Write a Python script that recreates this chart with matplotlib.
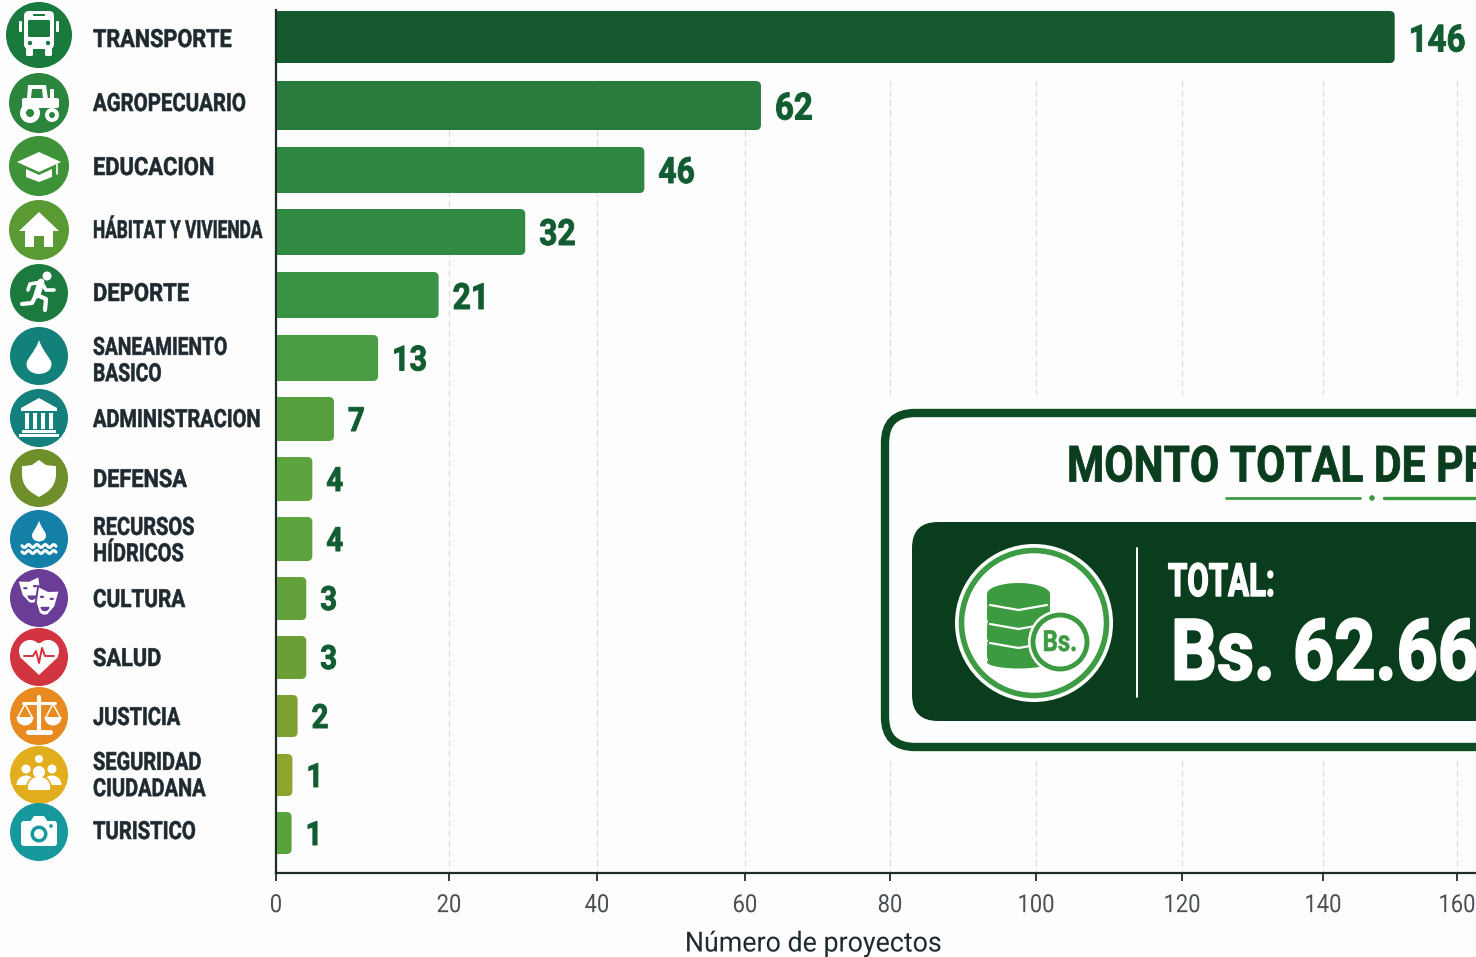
import numpy as np
import matplotlib
matplotlib.use('Agg')
import matplotlib.pyplot as plt
from matplotlib.patches import Circle, Ellipse, FancyBboxPatch, PathPatch, Polygon, Wedge
from matplotlib.patheffects import AbstractPathEffect
from matplotlib.path import Path
from matplotlib.transforms import Affine2D

plt.rcParams['font.family'] = ['Roboto', 'DejaVu Sans']

# data
categories = ['TRANSPORTE', 'AGROPECUARIO', 'EDUCACION', 'HÁBITAT Y VIVIENDA', 'DEPORTE',
              'SANEAMIENTO\nBASICO', 'ADMINISTRACION', 'DEFENSA', 'RECURSOS\nHÍDRICOS',
              'CULTURA', 'SALUD', 'JUSTICIA', 'SEGURIDAD\nCIUDADANA', 'TURISTICO']
value_labels = [146, 62, 46, 32, 21, 13, 7, 4, 4, 3, 3, 2, 1, 1]
# the bars do not sit exactly on their printed value, these are read off the axis
bar_lengths = [150.7, 62.2, 46.4, 30.3, 18.8, 11.8, 6.7, 4.2, 4.2, 3.5, 3.5, 2.5, 1.9, 1.8]
x_ticks = [0, 20, 40, 60, 80, 100, 120, 140, 160]
x_label = 'Número de proyectos'
panel_title = 'MONTO TOTAL DE PROYECTOS'
panel_total = 'TOTAL:'
panel_amount = 'Bs. 62.66'

# layout, in pixels of the 1476x957 picture
W, H = 1476, 957
tick_px = [276, 449, 597, 745, 890, 1036, 1182, 1323, 1457]
bar_top = [11, 81, 147, 209, 272, 335, 397, 457, 517, 577, 636, 695, 754, 812]
bar_bot = [63, 130, 193, 255, 318, 381, 441, 501, 561, 620, 679, 737, 796, 854]
label_y = [40, 104, 168, 231, 294, 361, 420, 480, 541, 600, 659, 718, 776, 832]
label_squeeze = [.866, .816, .876, .69, .88, .77, .80, .87, .80, .83, .87, .80, .80, .81]
value_y = [41, 109, 173, 235, 299, 361, 422, 482, 542, 601, 660, 719, 778, 836]
value_size = [27, 27, 26, 26, 26, 25, 24, 24, 24, 24, 24, 24, 24, 24]
icon_y = [35, 103, 166, 230, 293, 356, 418, 478, 539, 598, 657, 716, 775, 832]
icon_r = [33, 30, 30, 30, 29, 29, 29, 29, 29, 29, 29, 29, 29, 29]
bar_colors = ['#16592f', '#287b3d', '#2f8841', '#318a41', '#3a9344', '#4a9c42', '#559e3e',
              '#5ea43e', '#5ea43e', '#62a03a', '#6a9f38', '#7ca032', '#8ea42c', '#58a23e']
icon_colors = ['#1a7a3e', '#2b853d', '#3e9238', '#5a9a32', '#1d7a3e', '#12817a', '#14807c',
               '#6f8f2a', '#1480a8', '#6a3d96', '#d2353f', '#e88a1f', '#e2ae1e', '#17989c']
bg = '#fdfdfd'
dark = '#0a3d1e'
value_color = '#125c31'
text_color = '#1f2a30'


class Squeeze(AbstractPathEffect):
    # no condensed font installed, so narrow the glyphs when they are drawn
    # stroke puts back some of the weight that the narrowing takes off
    def __init__(self, factor, center=False, stroke=0):
        self.factor = factor
        self.center = center
        self.stroke = stroke

    def draw_path(self, renderer, gc, tpath, affine, rgbFace=None):
        shift = tpath.get_extents().x1 / 2 if self.center else 0
        squeeze = Affine2D().translate(-shift, 0).scale(self.factor, 1).translate(shift, 0)
        gc0 = renderer.new_gc()
        gc0.copy_properties(gc)
        gc0.set_linewidth(self.stroke)
        if self.stroke:
            gc0.set_foreground(rgbFace)
        renderer.draw_path(gc0, tpath, squeeze + affine, rgbFace)
        gc0.restore()


# axis spacing in the picture is not even, so the scale goes through the tick pixels
def to_px(v):
    v = np.asarray(v, dtype=float)
    return np.where(v <= 160, np.interp(v, x_ticks, tick_px), 1457 + (v - 160) * 6.7)


def from_px(p):
    p = np.asarray(p, dtype=float)
    return np.where(p <= 1457, np.interp(p, tick_px, x_ticks), 160 + (p - 1457) / 6.7)


fig = plt.figure(figsize=(W / 100, H / 100), dpi=100, facecolor=bg)
ax = fig.add_axes([276 / W, (H - 873) / H, (W - 276) / W, 873 / H])
ax.set_facecolor('none')
ax.set_xscale('function', functions=(to_px, from_px))
ax.set_xlim(0, float(from_px(W)))
ax.set_ylim(873, 0)

ax.vlines(x_ticks[1:], 80, 873, color='#dddddd', lw=0.9, linestyles=(0, (5, 3)), zorder=1)
centers = [(a + b) / 2 for a, b in zip(bar_top, bar_bot)]
heights = [b - a for a, b in zip(bar_top, bar_bot)]
bars = ax.barh(centers, bar_lengths, height=heights, color=bar_colors, zorder=2)

ax.set_xticks(x_ticks)
ax.set_xticklabels([str(t) for t in x_ticks], fontsize=18, color='#4a5054')
ax.set_yticks([])
ax.tick_params(axis='x', length=6, width=1.3, color='#1f2d2a', pad=8.5)
ax.xaxis.set_minor_locator(plt.NullLocator())
for lab in ax.get_xticklabels():
    lab.set_path_effects([Squeeze(.88, center=True)])
ax.spines['top'].set_visible(False)
ax.spines['right'].set_visible(False)
ax.spines['left'].set_bounds(873, 10)
for s in ['left', 'bottom']:
    ax.spines[s].set_color('#1f2d2a')
    ax.spines[s].set_linewidth(1.6)

# overlay in picture pixels for rounded bars, icons and the panel
px = fig.add_axes([0, 0, 1, 1], zorder=5)
px.set_xlim(0, W)
px.set_ylim(H, 0)
px.axis('off')

fig.canvas.draw()
for bar, col in zip(bars, bar_colors):
    box = bar.get_window_extent()
    x0, x1 = box.x0 + 1, box.x1
    y0, y1 = H - box.y1, H - box.y0
    r = 5
    verts = [(x0, y0), (x1 - r, y0), (x1, y0), (x1, y0 + r), (x1, y1 - r), (x1, y1), (x1 - r, y1), (x0, y1), (x0, y0)]
    codes = [Path.MOVETO, Path.LINETO, Path.CURVE3, Path.CURVE3, Path.LINETO, Path.CURVE3, Path.CURVE3,
             Path.LINETO, Path.CLOSEPOLY]
    bar.set_visible(False)
    px.add_patch(PathPatch(Path(verts, codes), fc=col, ec='none', zorder=2))

for bar, val, yv, fs in zip(bars, value_labels, value_y, value_size):
    t = px.text(bar.get_window_extent().x1 + 14, yv, str(val), fontsize=fs, fontweight='bold',
                color=value_color, va='center', ha='left', zorder=3)
    t.set_path_effects([Squeeze(.88, stroke=0.7)])

for name, yl, sq in zip(categories, label_y, label_squeeze):
    t = px.text(93, yl, name, fontsize=18, fontweight='bold', color=text_color, va='center', ha='left',
                linespacing=1.12, zorder=3)
    t.set_path_effects([Squeeze(sq, stroke=0.4)])

t = px.text(813, 944, x_label, fontsize=20, color=text_color, ha='center', va='center')
t.set_path_effects([Squeeze(.965, center=True)])

WHITE = 'white'


def rr(x0, y0, x1, y1, r, col, z=4, ec='none', lw=0):
    p = FancyBboxPatch((x0 + r, y0 + r), x1 - x0 - 2 * r, y1 - y0 - 2 * r,
                       boxstyle='round,pad=%f,rounding_size=%f' % (r, r), fc=col, ec=ec, lw=lw, zorder=z)
    px.add_patch(p)
    return p


def poly(pts, col, z=4):
    px.add_patch(Polygon(pts, closed=True, fc=col, ec='none', zorder=z))


def circ(x, y, r, col, z=4):
    px.add_patch(Circle((x, y), r, fc=col, ec='none', zorder=z))


def line(xs, ys, col=WHITE, lw=2.5, z=4):
    px.plot(xs, ys, color=col, lw=lw, solid_capstyle='round', solid_joinstyle='round', zorder=z)


def drop(x, y, h, w, col=WHITE, z=4):
    verts = [(x, y - h / 2), (x + w * .15, y - h * .15), (x + w / 2, y + h * .05), (x + w / 2, y + h * .2),
             (x + w / 2, y + h / 2), (x, y + h / 2), (x, y + h / 2), (x, y + h / 2), (x - w / 2, y + h / 2),
             (x - w / 2, y + h * .2), (x - w / 2, y + h * .05), (x - w * .15, y - h * .15), (x, y - h / 2)]
    codes = [Path.MOVETO] + [Path.CURVE4] * 12
    px.add_patch(PathPatch(Path(verts, codes), fc=col, ec='none', zorder=z))


def icon_bus(x, y, c):
    rr(x - 15, y - 24, x + 15, y + 14, 5, WHITE)
    rr(x - 11, y - 15, x + 11, y + 2, 1.5, c, z=5)
    rr(x - 6, y - 21, x + 6, y - 19, .8, c, z=5)
    rr(x - 13, y + 12, x - 6, y + 21, 1.5, WHITE)
    rr(x + 6, y + 12, x + 13, y + 21, 1.5, WHITE)
    rr(x - 20, y - 14, x - 17, y - 3, 1, WHITE)
    rr(x + 17, y - 14, x + 20, y - 3, 1, WHITE)
    circ(x - 9, y + 8, 2.2, c, z=5)
    circ(x + 9, y + 8, 2.2, c, z=5)


def icon_tractor(x, y, c):
    poly([(x - 11, y - 18), (x + 7, y - 18), (x + 9, y - 4), (x - 12, y - 4)], WHITE)
    poly([(x - 7, y - 14), (x + 3, y - 14), (x + 4, y - 5), (x - 8, y - 5)], c, z=5)
    rr(x - 17, y - 5, x + 20, y + 5, 2, WHITE)
    rr(x + 11, y - 14, x + 15, y - 4, 1, WHITE)
    circ(x - 9, y + 10, 10, WHITE, z=5)
    circ(x - 9, y + 10, 4, c, z=6)
    circ(x + 13, y + 12, 7, WHITE, z=5)
    circ(x + 13, y + 12, 3, c, z=6)


def icon_cap(x, y, c):
    poly([(x - 22, y - 4), (x, y - 14), (x + 22, y - 4), (x, y + 6)], WHITE)
    poly([(x - 13, y + 3), (x, y + 9), (x + 13, y + 3), (x + 13, y + 11), (x, y + 16), (x - 13, y + 11)], WHITE)
    line([x + 18, x + 18], [y - 2, y + 8], lw=1.2)


def icon_house(x, y, c):
    poly([(x, y - 18), (x + 20, y + 1), (x + 14, y + 1), (x + 14, y + 17), (x + 5, y + 17), (x + 5, y + 6),
          (x - 5, y + 6), (x - 5, y + 17), (x - 14, y + 17), (x - 14, y + 1), (x - 20, y + 1)], WHITE)


def icon_runner(x, y, c):
    circ(x + 8, y - 17, 4.5, WHITE)
    line([x + 2, x - 2], [y - 11, y + 2], lw=5)
    line([x + 3, x - 9, x - 11], [y - 11, y - 9, y - 3], lw=2.6)
    line([x + 3, x + 7, x + 15], [y - 10, y - 3, y - 3], lw=2.6)
    line([x - 2, x + 7, x + 6], [y + 2, y + 6, y + 17], lw=3)
    line([x - 3, x - 7, x - 17], [y + 2, y + 10, y + 11], lw=3)


def icon_drop(x, y, c):
    drop(x, y + 1, 34, 25)


def icon_bank(x, y, c):
    poly([(x, y - 20), (x + 18, y - 10), (x + 18, y - 7), (x - 18, y - 7), (x - 18, y - 10)], WHITE)
    for dx in (-12, -4, 4, 12):
        px.add_patch(plt.Rectangle((x + dx - 2, y - 5), 4, 16, fc=WHITE, ec='none', zorder=4))
    px.add_patch(plt.Rectangle((x - 17, y + 12), 34, 3, fc=WHITE, ec='none', zorder=4))
    px.add_patch(plt.Rectangle((x - 20, y + 16), 40, 3, fc=WHITE, ec='none', zorder=4))


def icon_shield(x, y, c):
    verts = [(x, y - 18), (x + 7, y - 13), (x + 15, y - 12), (x + 17, y - 12), (x + 17, y - 4), (x + 17, y + 10),
             (x + 7, y + 15), (x, y + 19), (x - 7, y + 15), (x - 17, y + 10), (x - 17, y - 4), (x - 17, y - 12),
             (x - 15, y - 12), (x - 7, y - 13), (x, y - 18)]
    codes = [Path.MOVETO, Path.LINETO, Path.LINETO, Path.LINETO, Path.LINETO, Path.CURVE4, Path.CURVE4, Path.CURVE4,
             Path.CURVE4, Path.CURVE4, Path.CURVE4, Path.LINETO, Path.LINETO, Path.LINETO, Path.CLOSEPOLY]
    px.add_patch(PathPatch(Path(verts, codes), fc=WHITE, ec='none', zorder=4))


def icon_water(x, y, c):
    drop(x, y - 8, 21, 14)
    wx = np.linspace(x - 17, x + 17, 40)
    for dy in (7, 13):
        line(wx, y + dy + 1.5 * np.sin((wx - x) * 0.75), lw=2.2)


def mask(x, y, w, h, ang, c, z):
    t = np.deg2rad(ang)
    rot = lambda u, v: (x + u * np.cos(t) - v * np.sin(t), y + u * np.sin(t) + v * np.cos(t))
    pts = [rot(-w, -h), rot(0, -h * .8), rot(w, -h), rot(w * .9, h * .2), rot(w * .4, h * .9), rot(0, h),
           rot(-w * .4, h * .9), rot(-w * .9, h * .2)]
    px.add_patch(Polygon(pts, closed=True, fc=WHITE, ec=c, lw=1.4, zorder=z))
    for u in (-.45, .45):
        ex, ey = rot(w * u, -h * .3)
        px.add_patch(Ellipse((ex, ey), 4.5, 2.4, fc=c, ec='none', zorder=z + 1))
    mx, my = rot(0, h * .35)
    px.add_patch(Wedge((mx, my), 4.5, 0, 180, fc=c, ec='none', zorder=z + 1))


def icon_masks(x, y, c):
    mask(x - 8, y - 7, 11, 13, -12, c, 4)
    mask(x + 7, y + 4, 11, 14, 12, c, 6)


def icon_heart(x, y, c):
    circ(x - 9, y - 6, 11, WHITE)
    circ(x + 9, y - 6, 11, WHITE)
    poly([(x - 19, y), (x + 19, y), (x, y + 18)], WHITE)
    poly([(x - 14, y - 14), (x + 14, y - 14), (x + 19, y), (x - 19, y)], WHITE)
    line([x - 15, x - 6, x - 3, x, x + 3, x + 6, x + 15], [y - 1, y - 1, y - 6, y + 6, y - 9, y - 1, y - 1], col=c, lw=1.4, z=5)


def icon_scale(x, y, c):
    line([x, x], [y - 19, y + 15], lw=3)
    line([x - 11, x + 11], [y + 16, y + 16], lw=3.5)
    line([x - 16, x + 16], [y - 13, y - 13], lw=2.2)
    for dx in (-14, 14):
        line([x + dx - 7, x + dx, x + dx + 7], [y + 1, y - 12, y + 1], lw=1.1)
        px.add_patch(Wedge((x + dx, y + 1), 8.5, 0, 180, fc=WHITE, ec='none', zorder=4))


def icon_people(x, y, c):
    for dx, dy, hr in ((-13, -3, 4.5), (13, -3, 4.5)):
        circ(x + dx, y + dy - 3, hr, WHITE)
        px.add_patch(Wedge((x + dx, y + 10), 9.5, 180, 360, fc=WHITE, ec='none', zorder=4))
    circ(x, y - 16, 4, WHITE)
    circ(x, y - 3, 6, WHITE, z=6)
    px.add_patch(Ellipse((x, y + 12), 24, 22, fc=WHITE, ec=c, lw=1.2, zorder=5))
    px.add_patch(plt.Rectangle((x - 14, y + 15), 28, 10, fc=c, ec='none', zorder=5))


def icon_camera(x, y, c):
    rr(x - 18, y - 11, x + 18, y + 14, 3, WHITE)
    poly([(x - 9, y - 10), (x - 5, y - 16), (x + 5, y - 16), (x + 9, y - 10)], WHITE)
    circ(x, y + 2, 8.5, c, z=5)
    circ(x, y + 2, 5, WHITE, z=6)
    circ(x + 12, y - 6, 1.8, c, z=5)


icon_funcs = [icon_bus, icon_tractor, icon_cap, icon_house, icon_runner, icon_drop, icon_bank,
              icon_shield, icon_water, icon_masks, icon_heart, icon_scale, icon_people, icon_camera]
for fn, yi, ri, col in zip(icon_funcs, icon_y, icon_r, icon_colors):
    circ(39, yi, ri, col, z=3)
    fn(39, yi, col)

# panel on the right, runs off the edge of the picture like the original
px.add_patch(plt.Rectangle((866, 395), W - 866, 365, fc=bg, ec='none', zorder=6))
rr(885, 413, W + 60, 747, 30, '#fefefe', z=7, ec='#0b4a23', lw=6)
rr(912, 522, W + 60, 721, 26, dark, z=8)
t = px.text(1067, 468, panel_title, fontsize=36, fontweight='bold', color='#0a3d1e', ha='left', va='center',
            zorder=9)
t.set_path_effects([Squeeze(.85, stroke=0.6)])
line([1226, 1360], [498, 498], col='#3c9a42', lw=2, z=9)
circ(1372, 498, 2.8, '#3c9a42', z=9)
line([1384, W + 5], [498, 498], col='#3c9a42', lw=2.4, z=9)

# coin badge
px.add_patch(Circle((1034, 623), 79, fc=WHITE, ec='none', zorder=9))
px.add_patch(Circle((1034, 623), 72.5, fc='none', ec='#3d9b43', lw=4, zorder=10))
green = '#3c9a40'
for top in (641, 622, 603):
    rr(987, top, 1050, top + 21, 6, green, z=10)
    px.add_patch(Ellipse((1018.5, top + 21), 63, 13, fc=green, ec='none', zorder=10))
    line([990, 1018.5, 1047], [top + 2, top + 7, top + 2], col=WHITE, lw=1.6, z=11)
px.add_patch(Ellipse((1018.5, 594), 63, 22, fc=green, ec='none', zorder=11))
px.add_patch(plt.Rectangle((987, 594), 63, 12, fc=green, ec='none', zorder=10))
circ(1060, 642, 32, WHITE, z=12)
px.add_patch(Circle((1060, 642), 27, fc=WHITE, ec=green, lw=3.5, zorder=13))
t = px.text(1060, 643, 'Bs.', fontsize=21, fontweight='bold', color=green, ha='center', va='center', zorder=14)
t.set_path_effects([Squeeze(.82, center=True, stroke=0.4)])

line([1137, 1137], [548, 697], lw=1.4, z=9)
t = px.text(1168, 583, panel_total, fontsize=33, fontweight='bold', color=WHITE, ha='left', va='center', zorder=9)
t.set_path_effects([Squeeze(.68, stroke=1.0)])
t = px.text(1171, 656, panel_amount, fontsize=61, fontweight='bold', color=WHITE, ha='left', va='center', zorder=9)
t.set_path_effects([Squeeze(.85, stroke=1.5)])

fig.savefig('out.png', dpi=100, facecolor=bg)
